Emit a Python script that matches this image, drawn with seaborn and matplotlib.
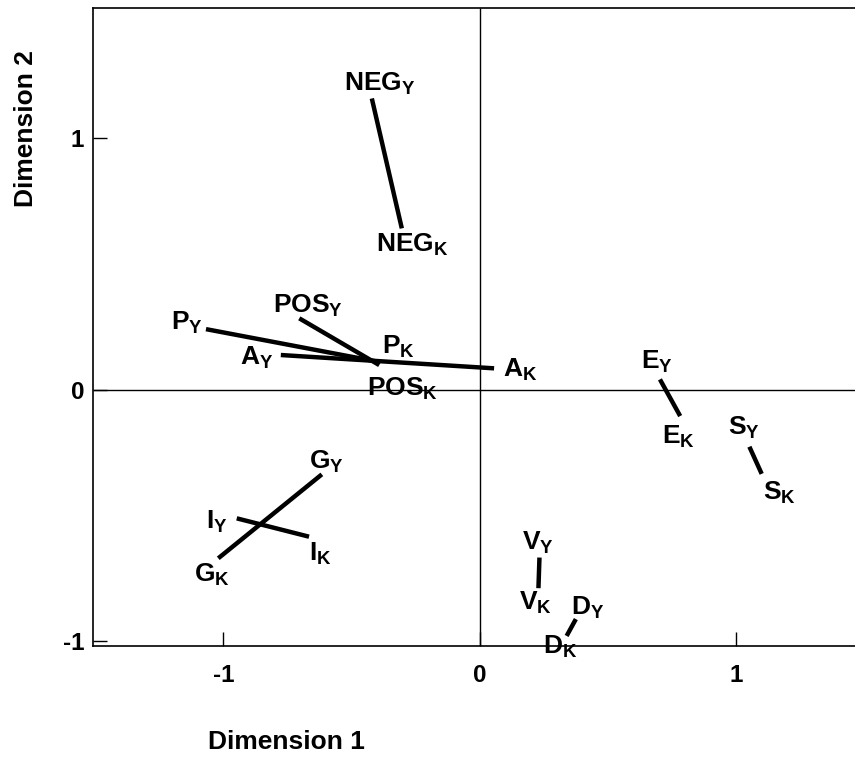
import matplotlib
matplotlib.use("Agg")
import matplotlib.pyplot as plt
import seaborn as sns
import pandas as pd

# ---- data ----
codes = ["NEG", "P", "POS", "A", "G", "I", "V", "D", "E", "S"]
y_dim1 = [-0.421, -1.068, -0.704, -0.776, -0.616, -0.948, 0.233, 0.375, 0.703, 1.052]
y_dim2 = [1.159, 0.241, 0.284, 0.138, -0.337, -0.512, -0.668, -0.913, 0.041, -0.227]
k_dim1 = [-0.304, -0.396, -0.392, 0.056, -1.020, -0.666, 0.229, 0.339, 0.782, 1.100]
k_dim2 = [0.642, 0.111, 0.098, 0.085, -0.671, -0.585, -0.790, -0.980, -0.105, -0.335]
groups = ["Y", "K"]
x_ticks = [-1, 0, 1]
y_ticks = [-1, 0, 1]
x_label = "Dimension 1"
y_label = "Dimension 2"

# ---- label placement (pixel offsets from line ends: dx right, dy down) ----
offsets = {
    ("NEG", "Y"): (8, -15), ("NEG", "K"): (10, 17),
    ("P", "Y"): (-19, -6), ("P", "K"): (20, -15),
    ("POS", "Y"): (9, -12), ("POS", "K"): (23, 24),
    ("A", "Y"): (-24, 3), ("A", "K"): (26, 2),
    ("G", "Y"): (5, -12), ("G", "K"): (-6, 17),
    ("I", "Y"): (-20, 4), ("I", "K"): (11, 17),
    ("V", "Y"): (-2, -15), ("V", "K"): (-3, 15),
    ("D", "Y"): (12, -11), ("D", "K"): (-6, 11),
    ("E", "Y"): (-3, -17), ("E", "K"): (-2, 21),
    ("S", "Y"): (-5, -19), ("S", "K"): (18, 19),
}

rows = []
for i, c in enumerate(codes):
    rows.append({"code": c, "grp": "Y", "d1": y_dim1[i], "d2": y_dim2[i]})
    rows.append({"code": c, "grp": "K", "d1": k_dim1[i], "d2": k_dim2[i]})
df = pd.DataFrame(rows)

sns.set_theme(style="white")
plt.rcParams["font.family"] = ["Liberation Sans", "DejaVu Sans"]
plt.rcParams["font.weight"] = "bold"
plt.rcParams["mathtext.fontset"] = "custom"
plt.rcParams["mathtext.rm"] = "Liberation Sans:bold"
plt.rcParams["mathtext.it"] = "Liberation Sans:bold"
plt.rcParams["mathtext.bf"] = "Liberation Sans:bold"
plt.rcParams["mathtext.default"] = "regular"

fig = plt.figure(figsize=(8.55, 7.59), dpi=100)
ax = fig.add_axes([0.1084, 0.1489, 0.8916, 0.8412])

ax.axhline(0, color="black", lw=1.0, zorder=1)
ax.axvline(0, color="black", lw=1.0, zorder=1)

sns.lineplot(data=df, x="d1", y="d2", units="code", estimator=None, sort=False,
             color="black", lw=3.2, ax=ax, legend=False, zorder=3)
for line in ax.lines:
    line.set_solid_capstyle("butt")

for _, r in df.iterrows():
    dx, dy = offsets[(r["code"], r["grp"])]
    ax.annotate(f"{r['code']}$_{{{r['grp']}}}$", (r["d1"], r["d2"]),
                xytext=(dx, -dy), textcoords="offset pixels",
                ha="center", va="center", fontsize=19, fontweight="bold",
                color="black", zorder=4)

ax.set_xlim(-1.510, 1.464)
ax.set_ylim(-1.020, 1.521)
ax.set_xticks(x_ticks)
ax.set_yticks(y_ticks)
ax.set_xticklabels([str(t) for t in x_ticks])
ax.set_yticklabels([str(t) for t in y_ticks])
ax.tick_params(axis="both", direction="in", length=10, width=1, color="black",
               labelsize=17.5, labelcolor="black")
ax.tick_params(axis="x", pad=13, bottom=True, top=False)
ax.tick_params(axis="y", pad=6, left=True, right=False)
for lab in ax.get_xticklabels() + ax.get_yticklabels():
    lab.set_fontweight("bold")

for s in ["left", "bottom", "top"]:
    ax.spines[s].set_visible(True)
    ax.spines[s].set_color("black")
    ax.spines[s].set_linewidth(1.2)
ax.spines["right"].set_visible(False)

ax.set_xlabel(x_label, fontsize=19, fontweight="bold", color="black")
ax.set_ylabel(y_label, fontsize=19, fontweight="bold", color="black")
ax.xaxis.set_label_coords(0.2545, -0.131)
ax.yaxis.set_label_coords(-0.072, 0.811)

fig.savefig("out.png", dpi=100)
